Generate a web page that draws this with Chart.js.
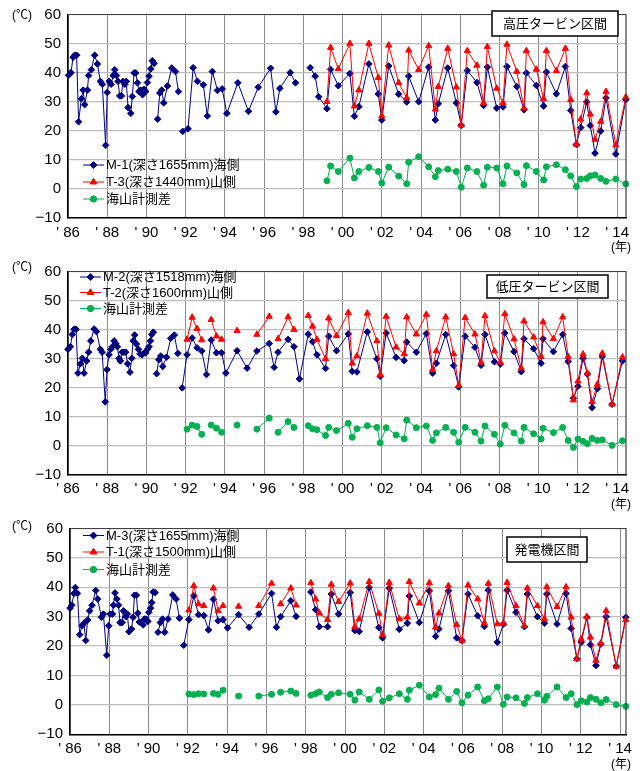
<!DOCTYPE html>
<html>
<head>
<meta charset="utf-8">
<script src="https://cdn.jsdelivr.net/npm/chart.js@4.4.1/dist/chart.umd.min.js"></script>
<style>
  html, body { margin: 0; padding: 0; background: #fff; }
  #wrap { position: relative; width: 640px; height: 771px; overflow: hidden; }
  .panel { position: absolute; left: 0; width: 640px; height: 257px; }
</style>
</head>
<body>
<div id="wrap">
  <div class="panel" style="top:0px"><canvas id="c1" width="640" height="257"></canvas></div>
  <div class="panel" style="top:257px"><canvas id="c2" width="640" height="257"></canvas></div>
  <div class="panel" style="top:514px"><canvas id="c3" width="640" height="257"></canvas></div>
</div>
<script>
// ---- x axis ticks (years) ----
const tickYears = [1986, 1988, 1990, 1992, 1994, 1996, 1998, 2000, 2002, 2004, 2006, 2008, 2010, 2012, 2014];

// ---- 高圧タービン区間 ----  (null = break in the line)
const hpSeaYears = [1986.03,1986.15,1986.26,1986.34,1986.44,1986.54,1986.68,1986.77,1986.85,1986.99,
  1987.05,1987.19,1987.36,1987.50,1987.65,1987.75,1987.92,1988.00,1988.10,1988.20,1988.30,1988.38,1988.47,
  1988.55,1988.64,1988.72,1988.80,1988.90,1988.97,1989.06,1989.20,1989.28,1989.37,1989.45,1989.54,1989.62,
  1989.70,1989.80,1989.88,1989.96,1990.05,1990.13,1990.22,1990.30,1990.39,1990.48,1990.57,1990.68,1990.78,
  1990.88,1991.07,1991.29,1991.48,1991.63,1991.74,1991.85,1992.12,1992.38,1992.60,1992.90,1993.10,1993.36,
  1993.62,1993.86,1994.10,1994.66,1995.20,1995.70,1996.33,1996.60,1996.80,1997.33,1997.60,1998.00,1998.35,
  1998.60,1998.78,1999.20,1999.39,1999.78,2000.37,2000.60,2000.83,2001.34,2001.82,2002.00,2002.35,2002.86,
  2003.27,2003.37,2003.88,2004.39,2004.73,2004.88,2005.36,2005.80,2006.05,2006.36,2006.85,2007.19,2007.38,
  2007.86,2008.18,2008.38,2008.88,2009.25,2009.37,2009.88,2010.25,2010.39,2010.90,2011.36,2011.63,2011.92,
  2012.14,2012.45,2012.63,2012.87,2013.16,2013.43,2013.93,2014.44];
const hpSeaTemps = [39.1,40,45.3,46,46,23.1,31,34,29,34,
  39,41,46,43,37,36,15,33.2,37,36,39,41,39,
  37,32,32,37,36,37,28,26,31.8,39.9,39.9,36.5,33.5,
  34,32.4,34.3,33.5,36.6,38.8,41.3,44.1,43.2,null,24,33,34,
  29.6,35.4,41.6,40.4,33.5,null,19.8,20.7,41.7,37,35.8,25.1,40.4,
  33.9,34.4,26,36.5,26.7,35,41.5,26.5,34.6,40,36.5,null,41.7,
  38.8,31.7,27.6,41.1,35.5,39.7,25,28.3,43,32.7,23.7,42.3,32.6,
  29.9,38.8,30,41.9,23.7,29.3,41.6,29.6,21.9,40.7,36.6,28.7,41.9,
  27.8,28.2,42.1,35.2,27.2,39.9,35.6,28.5,40.2,32.7,42.1,27,15.3,
  21.1,29.9,21.8,12.3,19.9,31.3,12,30.7];
const hpMtnYears = [1999.20,1999.39,1999.78,2000.37,2000.60,2000.83,2001.34,2001.82,2002.00,2002.35,
  2002.86,2003.27,2003.37,2003.88,2004.39,2004.73,2004.88,2005.36,2005.80,2006.05,2006.36,2006.85,2007.19,
  2007.38,2007.86,2008.18,2008.38,2008.88,2009.25,2009.37,2009.88,2010.25,2010.39,2010.90,2011.36,2011.63,
  2011.92,2012.14,2012.45,2012.63,2012.87,2013.16,2013.43,2013.93,2014.44];
const hpMtnTemps = [30,48.6,41.3,50,28.5,34,50,38.3,25.1,49.4,
  36.5,31.3,47.7,41,49.2,27.4,35.2,48.3,35,21.9,47.5,42.5,29.6,
  48.9,34.6,29.6,49.7,40.4,27.8,47.5,41.1,31,47.5,40.6,48.3,30.7,
  15.3,24,33,25.7,17,23.2,33.5,15.1,31.6];
const hpDiff = [2.8,7.9,6,10.6,3.8,6,7.4,6,2.0,7.5,
  4.4,1.8,9.2,11.1,7.6,4.2,6.3,6.8,6,0.6,7.2,6,1.3,
  7.5,7.2,1.8,7.9,5.5,1.5,8,6,3.1,7.6,8.3,6.6,4.5,
  0.8,3.4,3.6,4.5,4.8,3.6,2.6,3.4,1.7];

// ---- 低圧タービン区間 ----
const lpSeaYears = [1986.00,1986.12,1986.22,1986.31,1986.41,1986.51,1986.63,1986.73,1986.82,1986.95,
  1987.05,1987.16,1987.33,1987.45,1987.65,1987.74,1987.90,1987.99,1988.09,1988.18,1988.26,1988.35,1988.43,
  1988.52,1988.60,1988.67,1988.76,1988.86,1988.94,1989.04,1989.16,1989.25,1989.32,1989.40,1989.49,1989.59,
  1989.67,1989.78,1989.86,1989.96,1990.05,1990.13,1990.20,1990.27,1990.35,1990.44,1990.52,1990.63,1990.73,
  1990.83,1991.02,1991.24,1991.42,1991.60,1991.71,1991.82,1992.07,1992.33,1992.58,1992.82,1993.06,1993.30,
  1993.57,1993.83,1994.05,1994.62,1995.13,1995.63,1996.26,1996.51,1996.71,1997.22,1997.52,1997.80,1998.25,
  1998.47,1998.69,1999.13,1999.29,1999.69,2000.29,2000.49,2000.73,2001.26,2001.75,2001.92,2002.22,2002.73,
  2003.14,2003.27,2003.76,2004.27,2004.59,2004.78,2005.26,2005.66,2005.92,2006.25,2006.75,2007.06,2007.26,
  2007.74,2008.04,2008.27,2008.74,2009.11,2009.25,2009.74,2010.12,2010.22,2010.75,2011.22,2011.50,2011.77,
  2012.00,2012.26,2012.48,2012.72,2012.99,2013.24,2013.74,2014.27];
const lpSeaTemps = [33.2,34.1,38.3,40.1,40.1,25,28.2,30.1,25,29.2,
  32.2,36.1,40.2,39.3,33.2,32.2,15.1,26.2,31.3,33.2,34.1,36.1,35.2,
  34.1,30.1,29.2,32.2,32.2,32.2,28.2,25.3,30.1,36.1,38.1,35,33.2,
  31.6,31.3,31.8,32,33.2,34.1,36.1,38.3,39.1,null,24.8,29.6,30.9,
  27.3,30.5,37,38.1,31.8,null,19.9,31.3,37.1,33.7,32.6,24.5,36.4,
  32,32,25,32.7,26.7,32.6,35.2,27,32.2,36.6,34.1,23,38.4,
  35.8,31.3,26.6,37.7,32.7,38.5,25.6,25.4,39.2,29.9,23.9,38.8,30.4,
  29.3,35.7,32.2,38.6,25,28.4,38.3,27.6,20.2,37.7,33.9,27.7,38.3,
  28.9,28.1,38.8,32.4,25.5,36.8,33.4,28.4,36.8,32.4,38.3,29,16.3,
  20.5,30.1,24.7,13.1,19.6,30.7,14.3,29.2];
const lpMtnYears = [1992.07,1992.33,1992.58,1992.82,1993.06,1993.30,1993.57,1993.83,1994.20,1994.62,
  1995.10,1995.63,1996.26,1996.50,1996.71,1997.22,1997.52,1997.90,1998.25,1998.47,1998.69,1999.13,1999.29,
  1999.69,2000.29,2000.49,2000.73,2001.26,2001.75,2001.92,2002.22,2002.73,2003.14,2003.27,2003.76,2004.27,
  2004.59,2004.78,2005.26,2005.66,2005.92,2006.25,2006.75,2007.06,2007.26,2007.74,2008.04,2008.27,2008.74,
  2009.11,2009.25,2009.74,2010.12,2010.22,2010.75,2011.22,2011.50,2011.77,2012.00,2012.26,2012.48,2012.72,
  2012.99,2013.24,2013.74,2014.27];
const lpMtnTemps = [36.6,44.2,40.3,36.4,null,43.4,37.7,36.6,null,39.6,
  null,38.3,44.5,null,36.8,44.3,40,null,44.8,41.1,36.6,29.9,43.9,
  37.9,45.8,28.4,30.9,45.6,36.1,24.5,44.5,33.9,31.6,44.3,38.4,45.2,
  26.2,32.6,44.3,31.6,20.7,44.1,38.4,28.7,44.7,32.6,28.7,45.4,36.7,
  26.7,42.9,37.4,30.7,42.6,36.8,44.3,30.7,15.7,22.2,31.5,25,15.1,
  21.1,31.8,14.3,30.5];
const lpDiff = [5.7,7.1,6.6,3.9,null,7.1,6,4.6,null,7.1,
  null,5.7,9.5,null,4.6,8.3,6.3,null,6.9,5.8,5.5,3.5,6.3,
  5.2,7.7,2.9,5.8,6.9,6.3,1.0,6.2,3.7,2.4,8.8,6.2,6.8,
  1.8,4.4,6.3,4.6,1.2,6.3,4.6,1.6,6.8,3.9,0.6,7.0,4.4,
  1.6,6.3,4.1,2.3,6,4.5,6.3,1.8,-0.6,2.3,1.5,0.7,2.5,
  1.8,2.0,0.1,1.7];

// ---- 発電機区間 ----
const gnSeaYears = [1986.00,1986.09,1986.20,1986.27,1986.38,1986.49,1986.61,1986.71,1986.80,1986.90,
  1987.00,1987.12,1987.31,1987.41,1987.60,1987.70,1987.87,1987.97,1988.04,1988.16,1988.21,1988.29,1988.39,
  1988.47,1988.55,1988.65,1988.72,1988.84,1988.92,1989.00,1989.13,1989.21,1989.28,1989.38,1989.45,1989.53,
  1989.62,1989.72,1989.79,1989.87,1989.96,1990.01,1990.10,1990.16,1990.23,1990.33,1990.40,1990.48,1990.60,
  1990.71,1990.82,1990.99,1991.23,1991.40,1991.57,1991.68,1991.79,1992.05,1992.30,1992.54,1992.81,1993.05,
  1993.30,1993.54,1993.79,1994.02,1994.58,1995.12,1995.61,1996.26,1996.51,1996.72,1997.24,1997.51,1997.90,
  1998.26,1998.50,1998.69,1999.11,1999.30,1999.67,2000.26,2000.50,2000.72,2001.23,2001.72,2001.91,2002.25,
  2002.76,2003.17,2003.27,2003.78,2004.29,2004.61,2004.78,2005.26,2005.68,2005.95,2006.26,2006.75,2007.09,
  2007.29,2007.75,2008.06,2008.25,2008.70,2009.13,2009.28,2009.79,2010.15,2010.27,2010.79,2011.25,2011.51,
  2011.80,2012.02,2012.31,2012.49,2012.77,2013.02,2013.29,2013.80,2014.29];
const gnSeaTemps = [32.9,33.9,37.9,39.9,37.9,23.9,26.9,27.8,21.9,28.9,
  32,33.9,38.9,36,29.8,30.9,16.9,26.9,30.9,30.9,33.9,38.1,36,
  33.9,28,28,32,30,30.9,24.9,25.8,29.8,37.3,37.3,31.2,28.2,
  28,27.2,29.2,29.2,28.4,31.5,32.9,34.8,38.4,38.2,null,24.7,28,
  29.2,24.7,29.2,37.4,36,29.5,null,20.3,29,37.1,30.7,30.4,25.5,
  35.9,28.6,29,26.2,30.7,26.4,30.9,37.9,26.4,30,35.4,30.1,null,
  38.4,32.4,26.6,26.6,37.7,30.9,38.2,25.3,25,39.9,26.3,22.8,39.7,
  25.7,27.8,37,28,38.8,23.3,25.8,38.8,22.8,21.9,37.7,30.3,26.7,
  39,21.3,27.5,39,31.5,26.6,37.7,30,27.8,37.7,27.5,37.9,26,
  15.7,21.3,29.8,20.5,13.4,20.7,30,13.2,29.8];
const gnMtnYears = [1992.05,1992.30,1992.54,1992.81,1993.05,1993.30,1993.54,1993.79,1994.20,1994.58,
  1995.10,1995.61,1996.26,1996.50,1996.72,1997.24,1997.51,1997.90,1998.26,1998.50,1998.69,1999.11,1999.30,
  1999.67,2000.26,2000.50,2000.72,2001.23,2001.72,2001.91,2002.25,2002.76,2003.17,2003.27,2003.78,2004.29,
  2004.61,2004.78,2005.26,2005.68,2005.95,2006.26,2006.75,2007.09,2007.29,2007.75,2008.06,2008.25,2008.70,
  2009.13,2009.28,2009.79,2010.15,2010.27,2010.79,2011.25,2011.51,2011.80,2012.02,2012.31,2012.49,2012.77,
  2013.02,2013.29,2013.80,2014.29];
const gnMtnTemps = [32.2,40.5,34.3,33.7,null,39.7,32,33.7,null,33.5,
  null,33.7,41.3,null,34.3,39.7,33.9,null,41.5,36,31.2,29,41,
  35.1,41.4,26.6,29.2,41.9,31.1,23.8,41.6,29.2,29.8,41.9,34.6,41.5,
  26.4,31.2,40.5,27.3,21.9,40.7,36,27.8,41.3,27.5,27.7,41.6,33.7,
  26.9,39.7,33.7,29.2,40.1,33.4,40.1,29.8,15.7,22.4,30,23,15.1,
  21,32,13.1,28.9];
const gnDiff = [3.7,3.5,3.8,3.7,null,3.9,3.6,5,null,3,
  null,3,3.6,null,4.3,4.7,3.9,null,3.3,3.8,4.4,2.5,3.6,
  4.1,3.6,1.6,4.4,1.9,5.1,1.2,2.4,3.8,1.9,5,6.7,2.7,
  3.5,5.7,1.9,4.6,0.7,3.3,6.1,1.4,2.1,6.1,0.2,2.7,2.4,
  0.5,2.5,3.8,1.6,2.9,6.1,2.5,3.8,0.1,1.4,1,2.5,1.9,
  0.7,1.8,0.1,-0.5];

// ---- drawing ----
const SEA = '#000080', MTN = '#ff0000', DIFF = '#00b050';
const TICK_FONT = { family: "'Liberation Sans', Arial, sans-serif", size: 15, lineHeight: 1 };
const TEXT_FONT = "'Liberation Sans', 'Noto Sans CJK JP', sans-serif";

function toPoints(xs, ys) { return xs.map((x, i) => ({ x: x, y: ys[i] })); }

const panels = [
  { id: 'c1', title: '高圧タービン区間', box: [492, 11, 618, 36],
    names: ['M-1(深さ1655mm)海側', 'T-3(深さ1440mm)山側', '海山計測差'],
    seaX: hpSeaYears, sea: hpSeaTemps, mtnX: hpMtnYears, mtn: hpMtnTemps, diff: hpDiff,
    top: 9.3, bottom: 218, left: 68, xMax: 2014.45, legendRows: [165, 182, 199], legendX: 83,
    unitY: 16, yearY: 248 },
  { id: 'c2', title: '低圧タービン区間', box: [487, 18, 608, 41],
    names: ['M-2(深さ1518mm)海側', 'T-2(深さ1600mm)山側', '海山計測差'],
    seaX: lpSeaYears, sea: lpSeaTemps, mtnX: lpMtnYears, mtn: lpMtnTemps, diff: lpDiff,
    top: 11.3, bottom: 217.7, left: 68, xMax: 2014.45, legendRows: [20, 35.5, 51.5], legendX: 80,
    unitY: 11, yearY: 248 },
  { id: 'c3', title: '発電機区間', box: [507, 23, 587, 48],
    names: ['M-3(深さ1655mm)海側', 'T-1(深さ1500mm)山側', '海山計測差'],
    seaX: gnSeaYears, sea: gnSeaTemps, mtnX: gnMtnYears, mtn: gnMtnTemps, diff: gnDiff,
    top: 13.3, bottom: 220.3, left: 70, xMax: 2014.3, legendRows: [21.5, 38, 55.5], legendX: 83,
    unitY: 13, yearY: 251 }
];

// frame, section title box, unit captions and the in-plot legend
const decor = {
  id: 'decor',
  afterDatasetsDraw(chart) {
    const p = chart.options.plugins.decor.panel;
    const ctx = chart.ctx, a = chart.chartArea;
    ctx.save();
    // top/right frame
    ctx.strokeStyle = '#404040'; ctx.lineWidth = 1.2;
    ctx.beginPath();
    ctx.moveTo(a.left, a.top); ctx.lineTo(a.right, a.top); ctx.lineTo(a.right, a.bottom);
    ctx.stroke();

    // legend (transparent, sits on the plot)
    ctx.font = '13px ' + TEXT_FONT;
    const lx = p.legendX;
    [0, 1, 2].forEach(i => {
      const ds = chart.data.datasets[i];
      const y = p.legendRows[i];
      ctx.strokeStyle = ds.borderColor; ctx.lineWidth = 1;
      ctx.beginPath(); ctx.moveTo(lx, y); ctx.lineTo(lx + 21, y); ctx.stroke();
      Chart.helpers.drawPoint(ctx, {
        pointStyle: ds.pointStyle, radius: ds.pointRadius, borderWidth: 1, rotation: 0
      }, lx + 10.5, y);
      ctx.fillStyle = ds.backgroundColor;
      ctx.strokeStyle = ds.borderColor;
      ctx.fill(); ctx.stroke();
      ctx.fillStyle = '#000'; ctx.textBaseline = 'middle'; ctx.textAlign = 'left';
      ctx.fillText(ds.label, lx + 23, y + 0.5);
    });

    // section title box
    const b = p.box;
    ctx.fillStyle = '#fff';
    ctx.fillRect(b[0], b[1], b[2] - b[0], b[3] - b[1]);
    ctx.strokeStyle = '#000'; ctx.lineWidth = 1.5;
    ctx.strokeRect(b[0], b[1], b[2] - b[0], b[3] - b[1]);
    ctx.fillStyle = '#000'; ctx.textAlign = 'center'; ctx.textBaseline = 'middle';
    ctx.font = '13px ' + TEXT_FONT;
    ctx.fillText(p.title, (b[0] + b[2]) / 2, (b[1] + b[3]) / 2 + 0.5);

    // unit captions
    ctx.font = '12px ' + TEXT_FONT;
    ctx.fillText('(℃)', 22, p.unitY);
    ctx.fillText('(年)', 621, p.yearY);
    ctx.restore();
  }
};

panels.forEach(p => {
  const canvasH = 257;
  new Chart(document.getElementById(p.id), {
    type: 'line',
    data: {
      datasets: [
        { label: p.names[0], data: toPoints(p.seaX, p.sea), borderColor: SEA, backgroundColor: SEA,
          pointStyle: 'rectRot', pointRadius: 3.3, pointBorderWidth: 1, borderWidth: 1, order: 1 },
        { label: p.names[1], data: toPoints(p.mtnX, p.mtn), borderColor: MTN, backgroundColor: MTN,
          pointStyle: 'triangle', pointRadius: 3.6, pointBorderWidth: 1, borderWidth: 1, order: 0 },
        { label: p.names[2], data: toPoints(p.mtnX, p.diff), borderColor: DIFF, backgroundColor: DIFF,
          pointStyle: 'circle', pointRadius: 3, pointBorderWidth: 1, borderWidth: 1, order: 2 }
      ]
    },
    options: {
      responsive: false,
      animation: false,
      devicePixelRatio: 1,
      spanGaps: false,
      clip: false,
      elements: { line: { tension: 0 } },
      layout: { padding: { top: p.top, right: 14, bottom: 0, left: 0 } },
      plugins: { legend: { display: false }, tooltip: { enabled: false }, decor: { panel: p } },
      scales: {
        x: {
          type: 'linear', min: 1986, max: p.xMax,
          afterBuildTicks: s => { s.ticks = tickYears.map(v => ({ value: v })); },
          afterFit: s => { s.height = canvasH - p.bottom; },
          ticks: { callback: v => "' " + String(v).slice(2), font: TICK_FONT, color: '#000',
                   padding: 7, maxRotation: 0, autoSkip: false },
          grid: { color: '#8c8c8c', lineWidth: 1, drawTicks: false },
          border: { display: true, color: '#000', width: 1.5 }
        },
        y: {
          min: -10, max: 60,
          afterFit: s => { s.width = p.left; },
          ticks: { stepSize: 10, callback: v => (v < 0 ? '\u2212' + Math.abs(v) : String(v)),
                   font: TICK_FONT, color: '#000', padding: 7 },
          grid: { color: '#bdbdbd', lineWidth: 1.3, drawTicks: false },
          border: { display: true, color: '#000', width: 1.5 }
        }
      }
    },
    plugins: [decor]
  });
});
</script>
</body>
</html>
